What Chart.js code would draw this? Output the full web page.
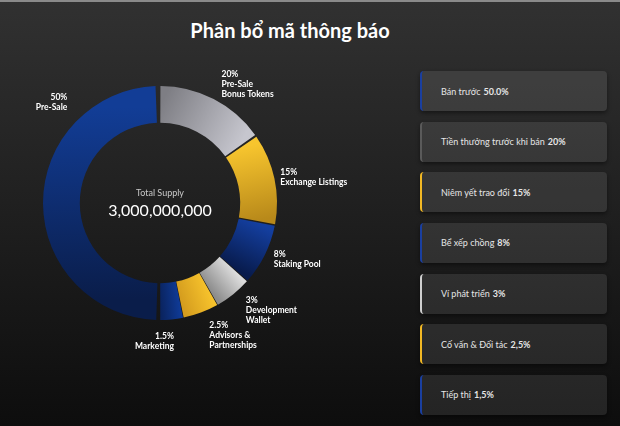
<!DOCTYPE html>
<html>
<head>
<meta charset="utf-8">
<script src="https://cdn.jsdelivr.net/npm/chart.js@4.4.1/dist/chart.umd.min.js"></script>
<style>
  html, body { margin: 0; padding: 0; }
  body {
    width: 620px; height: 426px; overflow: hidden; position: relative;
    background: linear-gradient(#313131, #0d0d0d);
    font-family: Lato, "Noto Sans", sans-serif;
  }
  #topline { position: absolute; left: 0; top: 0; width: 620px; height: 2px; background: #8a8a8a; }
  #title {
    position: absolute; left: 0; top: 18px; width: 580px; text-align: center;
    color: #fff; font-size: 20px; font-weight: bold;
  }
  #chartBox { position: absolute; left: 0; top: 0; width: 410px; height: 426px; }
  #cards {
    position: absolute; left: 420px; top: 71px; width: 187px;
    display: flex; flex-direction: column; gap: 10.67px;
  }
  .card {
    height: 40px; box-sizing: border-box; border-radius: 4px;
    border-left: 2px solid #555; padding-left: 19px;
    background: rgba(255, 255, 255, 0.095);
    box-shadow: 0 2px 4px rgba(0, 0, 0, 0.45);
    display: flex; align-items: center;
    color: #e6e6e6; font-size: 9px;
  }
  .card b { margin-left: 3px; }
</style>
</head>
<body>
<div id="topline"></div>
<div id="title">Phân bổ mã thông báo</div>
<div id="chartBox"><canvas id="myChart"></canvas></div>
<div id="cards"></div>

<script>
// share of the ring each slice takes in the picture
const arcShares = [50, 15.4, 12.8, 8.6, 5.2, 5, 3.2]
const percentLabels = ['50%', '20%', '15%', '8%', '3%', '2.5%', '1.5%']
const nameLines = [
  ['Pre-Sale'],
  ['Pre-Sale', 'Bonus Tokens'],
  ['Exchange Listings'],
  ['Staking Pool'],
  ['Development', 'Wallet'],
  ['Advisors &', 'Partnerships'],
  ['Marketing']
]
const cardNames = ['Bán trước', 'Tiền thưởng trước khi bán', 'Niêm yết trao đổi', 'Bể xếp chồng', 'Ví phát triển', 'Cố vấn & Đối tác', 'Tiếp thị']
const cardValues = ['50.0%', '20%', '15%', '8%', '3%', '2,5%', '1,5%']

const colorFrom = ['#0a1d4a', '#7e7e84', '#f7c52e', '#143fa0', '#dcdcdc', '#f6c22c', '#0f3a96']
const colorTo   = ['#123d96', '#c6c6ce', '#b8891a', '#081b4c', '#8c8c8c', '#d49c1e', '#0a2460']
const cardEdge  = ['#1a3fa0', '#5a5a5a', '#f2b824', '#1a3fa0', '#cfcfcf', '#f2b824', '#1a3fa0']

// label placement: where along the arc, and how far past the outer edge
const labelAt  = [0.765, 0.5, 0.5, 0.5, 0.5, 0.5, 0.5]
const labelGap = [22, 19, 8, 12, 22, 26, 24]

function sliceFill(ctx) {
  const i = ctx.dataIndex
  const chart = ctx.chart
  const area = chart.chartArea
  if (!area || i === undefined) return colorFrom[i] || '#888'
  const cx = (area.left + area.right) / 2
  const cy = (area.top + area.bottom) / 2
  const total = arcShares.reduce((a, b) => a + b, 0)
  let before = 0
  for (let k = 0; k < i; k++) before += arcShares[k]
  const a0 = Math.PI / 2 + before / total * Math.PI * 2
  const a1 = a0 + arcShares[i] / total * Math.PI * 2
  const r = 96
  const g = chart.ctx.createLinearGradient(
    cx + r * Math.cos(a0), cy + r * Math.sin(a0),
    cx + r * Math.cos(a1), cy + r * Math.sin(a1))
  g.addColorStop(0, colorFrom[i])
  g.addColorStop(1, colorTo[i])
  return g
}

const centerText = {
  id: 'centerText',
  afterDatasetsDraw(chart) {
    const c = chart.ctx
    const arc = chart.getDatasetMeta(0).data[0]
    c.save()
    c.textAlign = 'center'
    c.textBaseline = 'middle'
    c.fillStyle = '#c8c8c8'
    c.font = '9px Lato'
    c.fillText('Total Supply', arc.x, arc.y - 10)
    c.fillStyle = '#ffffff'
    c.font = '16px Lato'
    c.fillText('3,000,000,000', arc.x, arc.y + 8)
    c.restore()
  }
}

const sliceLabels = {
  id: 'sliceLabels',
  afterDatasetsDraw(chart) {
    const c = chart.ctx
    const arcs = chart.getDatasetMeta(0).data
    c.save()
    c.font = 'bold 8.5px Lato'
    c.fillStyle = '#ffffff'
    c.textBaseline = 'middle'
    arcs.forEach((arc, i) => {
      const a = arc.startAngle + (arc.endAngle - arc.startAngle) * labelAt[i]
      const r = arc.outerRadius + labelGap[i]
      const x = arc.x + r * Math.cos(a)
      const y = arc.y + r * Math.sin(a)
      const lines = [percentLabels[i]].concat(nameLines[i])
      c.textAlign = x < arc.x + 25 ? 'right' : 'left'
      const top = y - (lines.length - 1) * 10 / 2
      lines.forEach((t, k) => c.fillText(t, x, top + k * 10))
    })
    c.restore()
  }
}

new Chart(document.getElementById('myChart'), {
  type: 'doughnut',
  data: {
    labels: nameLines.map(l => l.join(' ')),
    datasets: [{
      data: arcShares,
      backgroundColor: sliceFill,
      borderWidth: 0,
      spacing: 4
    }]
  },
  options: {
    responsive: true,
    maintainAspectRatio: false,
    animation: false,
    rotation: 180,
    cutout: '68%',
    layout: { padding: { left: 43, right: 133, top: 86, bottom: 106 } },
    plugins: {
      legend: { display: false },
      tooltip: { enabled: false }
    }
  },
  plugins: [centerText, sliceLabels]
})

const cards = document.getElementById('cards')
cardNames.forEach((name, i) => {
  const d = document.createElement('div')
  d.className = 'card'
  d.style.borderLeftColor = cardEdge[i]
  d.innerHTML = name + ' <b>' + cardValues[i] + '</b>'
  cards.appendChild(d)
})
</script>
</body>
</html>
